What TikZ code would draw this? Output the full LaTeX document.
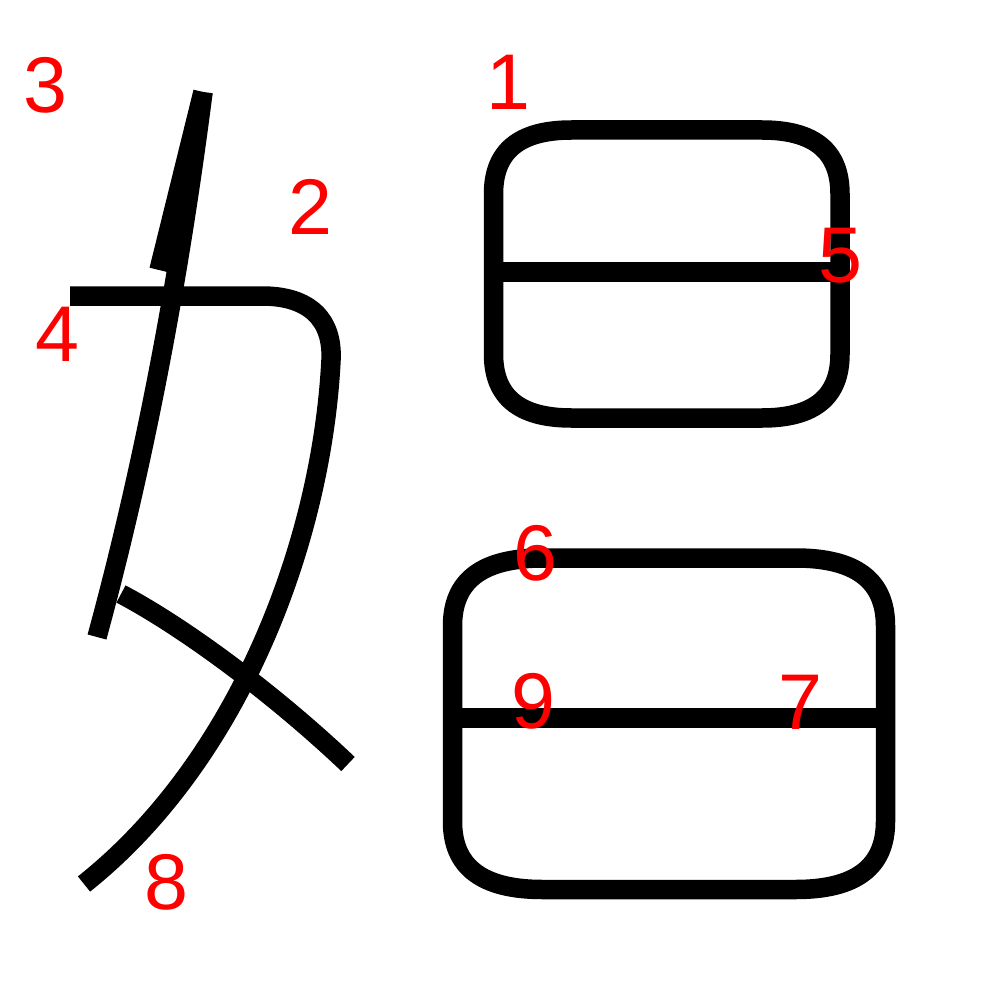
\documentclass[tikz,border=0pt]{standalone}
\usepackage{fontspec}
\newfontfamily\lblfont{Liberation Sans}
\newcommand\sqbox[6]{% L T R B rx ry
  \draw[strokeline] (#1,{#2+#6}) .. controls (#1,{#2+0.33*#6}) and ({#1+0.33*#5},#2) .. ({#1+#5},#2)
    -- ({#3-#5},#2) .. controls ({#3-0.33*#5},#2) and (#3,{#2+0.33*#6}) .. (#3,{#2+#6})
    -- (#3,{#4-#6}) .. controls (#3,{#4-0.33*#6}) and ({#3-0.33*#5},#4) .. ({#3-#5},#4)
    -- ({#1+#5},#4) .. controls ({#1+0.33*#5},#4) and (#1,{#4-0.33*#6}) .. (#1,{#4-#6}) -- cycle;}
\begin{document}
\begin{tikzpicture}[x=1pt,y=-1pt,
  strokeline/.style={line width=19.5pt,line cap=butt,line join=round,draw=black},
  lbl/.style={text=red,font=\lblfont\fontsize{79}{79}\selectfont,inner sep=0pt,anchor=base}]
\useasboundingbox[fill=white] (0,0) rectangle (1000,1000);
% left component
\draw[strokeline] (203,92) -- (159,270);
\draw[strokeline] (203,92) .. controls (180,272) and (146,457) .. (97,637);
\draw[strokeline] (70,296) -- (262,296) .. controls (310,296) and (333,320) .. (331,360)
  .. controls (322,540) and (240,760) .. (84,884);
\draw[strokeline] (121,594) .. controls (180,625) and (270,690) .. (348,764);
% upper box
\sqbox{493.5}{130}{840}{418}{78}{64}
\draw[strokeline] (493.5,272) -- (840,272);
% lower box
\sqbox{452.5}{558}{885.5}{889.5}{90}{68}
\draw[strokeline] (452.5,718) -- (885.5,718);
% labels
\node[lbl] (n3) at (45,113) {3};
\node[lbl] (n1) at (508.5,110) {1};
\node[lbl] (n2) at (310.5,235) {2};
\node[lbl] (n5) at (840,282) {5};
\node[lbl] (n4) at (57.5,361) {4};
\node[lbl] (n6) at (535,580) {6};
\node[lbl] (n9) at (533.5,728) {9};
\node[lbl] (n7) at (800,729) {7};
\node[lbl] (n8) at (166,909) {8};
\end{tikzpicture}
\end{document}
